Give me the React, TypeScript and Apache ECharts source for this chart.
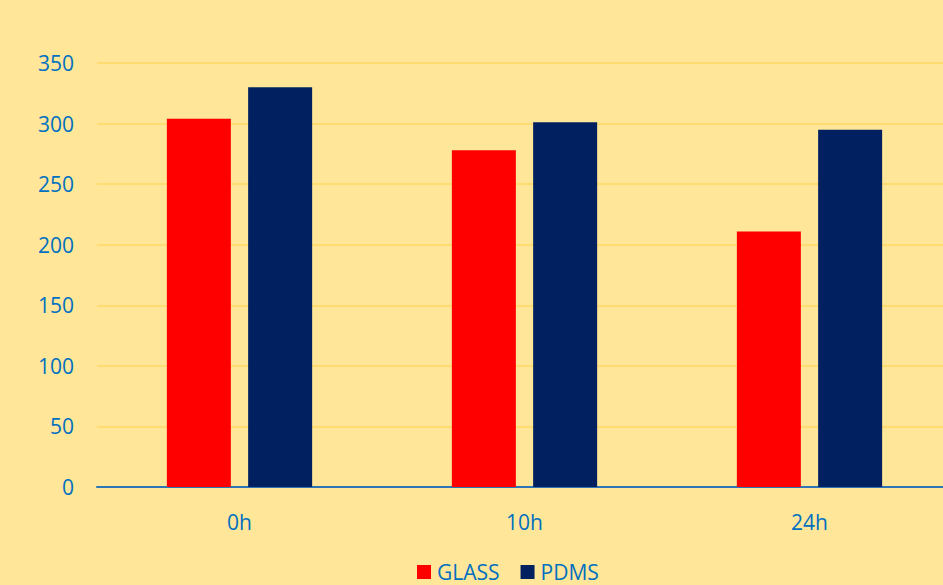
import React, { useEffect, useRef } from "react";
import * as echarts from "echarts";

const categories = ["0h", "10h", "24h"];
const glassValues = [304, 278, 211];
const pdmsValues = [330, 301, 295];
const seriesNames = ["GLASS", "PDMS"];

export default function App() {
  const ref = useRef<HTMLDivElement>(null);
  useEffect(() => {
    if (!ref.current) return;
    const chart = echarts.init(ref.current, null, { renderer: "svg" });
    const font = "'Open Sans', 'Noto Sans', sans-serif";
    chart.setOption({
      animation: false,
      backgroundColor: "#FFE699",
      textStyle: { fontFamily: font },
      grid: { left: 97, right: 0, top: 63, bottom: 98, containLabel: false },
      legend: {
        top: 561,
        left: 417,
        padding: 0,
        itemWidth: 14,
        itemHeight: 14,
        itemGap: 21,
        icon: "rect",
        textStyle: { color: "#0070C0", fontSize: 21, lineHeight: 22, fontFamily: font, padding: [0, 0, 0, 1] },
        data: seriesNames,
      },
      xAxis: {
        type: "category",
        data: categories,
        axisLine: { lineStyle: { color: "#2E75B6", width: 2 } },
        axisTick: { show: false },
        axisLabel: { color: "#0070C0", fontSize: 21, margin: 24, fontFamily: font },
      },
      yAxis: {
        type: "value",
        min: 0,
        max: 350,
        interval: 50,
        axisLine: { show: false },
        axisTick: { show: false },
        axisLabel: { color: "#0070C0", fontSize: 21, margin: 23, fontFamily: font },
        splitLine: { lineStyle: { color: "#FFD966", width: 1.5 } },
      },
      series: [
        {
          name: seriesNames[0],
          type: "bar",
          data: glassValues,
          barWidth: 64,
          barGap: "27%",
          itemStyle: { color: "#FF0000" },
        },
        {
          name: seriesNames[1],
          type: "bar",
          data: pdmsValues,
          barWidth: 64,
          barGap: "27%",
          itemStyle: { color: "#002060" },
        },
      ],
    });
    return () => chart.dispose();
  }, []);
  return (
    <div style={{ width: 943, height: 585, position: "absolute", left: 0, top: 0, overflow: "hidden", background: "#FFE699" }}>
      <div ref={ref} style={{ width: 952, height: 585, position: "absolute", left: 0, top: 0 }} />
    </div>
  );
}
